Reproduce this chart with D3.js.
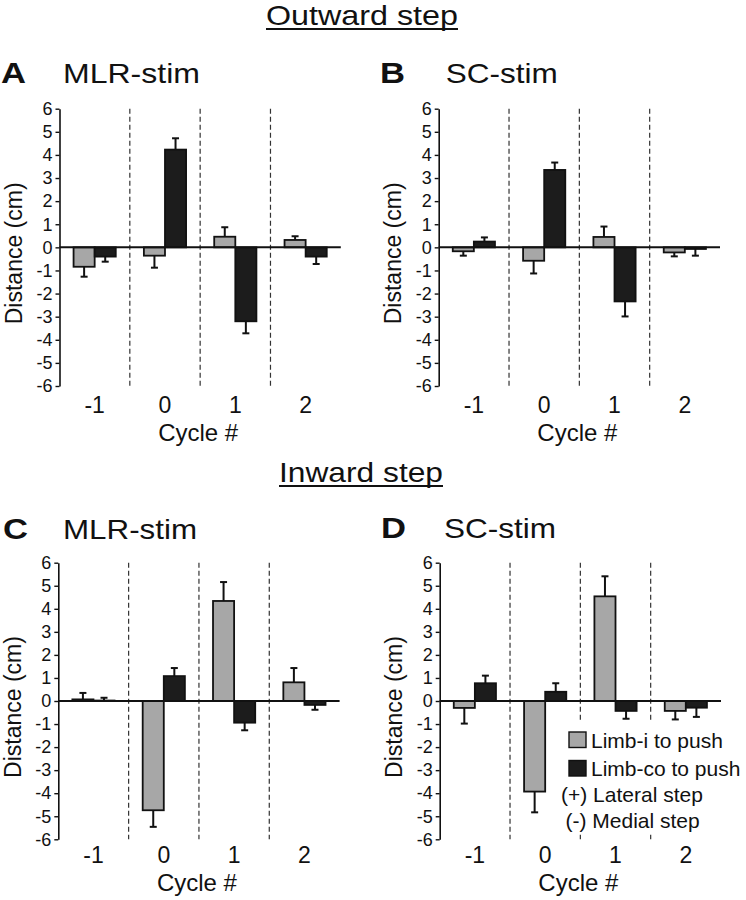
<!DOCTYPE html>
<html>
<head>
<meta charset="utf-8">
<script src="https://cdn.jsdelivr.net/npm/d3@7"></script>
<style>
  body { margin: 0; background: #fff; }
  svg text { font-family: "Liberation Sans", Arial, sans-serif; fill: #111; }
</style>
</head>
<body>
<div id="chart"></div>
<script>
// categories / series / ticks
var cycles = ["-1", "0", "1", "2"];
var series = ["Limb-i to push", "Limb-co to push"];
var yTicks = [-6, -5, -4, -3, -2, -1, 0, 1, 2, 3, 4, 5, 6];

// Outward step, MLR-stim (A)
var outMlrLimbI = [-0.84, -0.36, 0.46, 0.32];
var outMlrLimbIErr = [0.43, 0.52, 0.41, 0.16];
var outMlrLimbCo = [-0.40, 4.23, -3.20, -0.40];
var outMlrLimbCoErr = [0.22, 0.49, 0.52, 0.32];

// Outward step, SC-stim (B)
var outScLimbI = [-0.17, -0.58, 0.45, -0.22];
var outScLimbIErr = [0.19, 0.55, 0.45, 0.17];
var outScLimbCo = [0.25, 3.35, -2.34, -0.07];
var outScLimbCoErr = [0.18, 0.32, 0.65, 0.29];

// Inward step, MLR-stim (C)
var inMlrLimbI = [0.07, -4.74, 4.34, 0.81];
var inMlrLimbIErr = [0.28, 0.72, 0.82, 0.62];
var inMlrLimbCo = [0.02, 1.08, -0.94, -0.17];
var inMlrLimbCoErr = [0.12, 0.35, 0.33, 0.21];

// Inward step, SC-stim (D)
var inScLimbI = [-0.30, -3.93, 4.54, -0.43];
var inScLimbIErr = [0.68, 0.90, 0.87, 0.37];
var inScLimbCo = [0.77, 0.40, -0.43, -0.29];
var inScLimbCoErr = [0.33, 0.37, 0.34, 0.40];

var colors = {"Limb-i to push": "#a7a7a7", "Limb-co to push": "#1c1c1c"};

var panels = [
  {letter: "A", title: "MLR-stim", left: 59.5, top: 108.7, bottom: 386, titleY: 83, tickY: 413, cycleY: 441,
   letterX: 1, titleX: 63, titleW: 137, i: outMlrLimbI, iErr: outMlrLimbIErr, co: outMlrLimbCo, coErr: outMlrLimbCoErr},
  {letter: "B", title: "SC-stim", left: 438.7, top: 108.7, bottom: 386, titleY: 83, tickY: 413, cycleY: 441,
   letterX: 380, titleX: 445.7, titleW: 112, i: outScLimbI, iErr: outScLimbIErr, co: outScLimbCo, coErr: outScLimbCoErr},
  {letter: "C", title: "MLR-stim", left: 58.3, top: 562.7, bottom: 839.3, titleY: 539, tickY: 863, cycleY: 891,
   letterX: 3, titleX: 63, titleW: 134, i: inMlrLimbI, iErr: inMlrLimbIErr, co: inMlrLimbCo, coErr: inMlrLimbCoErr},
  {letter: "D", title: "SC-stim", left: 439.7, top: 562.7, bottom: 839.3, titleY: 538, tickY: 863, cycleY: 891,
   letterX: 381, titleX: 444, titleW: 112, i: inScLimbI, iErr: inScLimbIErr, co: inScLimbCo, coErr: inScLimbCoErr, legend: true}
];

var plotW = 281.3;

var svg = d3.select("#chart")
  .append("svg")
    .attr("width", 746)
    .attr("height", 900);

// section headings
function heading(txt, cx, y, w) {
  svg.append("text")
    .attr("x", cx - w / 2)
    .attr("y", y)
    .attr("font-size", 27.5)
    .attr("textLength", w)
    .attr("lengthAdjust", "spacingAndGlyphs")
    .text(txt);
  svg.append("line")
    .attr("x1", cx - w / 2).attr("x2", cx + w / 2)
    .attr("y1", y + 4).attr("y2", y + 4)
    .attr("stroke", "#111").attr("stroke-width", 2);
}
heading("Outward step", 362, 25, 192);
heading("Inward step", 361, 482, 164);

panels.forEach(function(p) {
  var g = svg.append("g");

  var y = d3.scaleLinear().domain([-6, 6]).range([p.bottom, p.top]);
  var x0 = d3.scaleBand().domain(cycles).range([p.left, p.left + plotW]);
  var step = x0.bandwidth();
  var x1 = d3.scaleBand().domain(series).range([step * 0.2, step * 0.8]);

  // panel letter + title
  g.append("text")
    .attr("x", p.letterX).attr("y", p.titleY)
    .attr("font-size", 29).attr("font-weight", "bold")
    .attr("textLength", 25).attr("lengthAdjust", "spacingAndGlyphs")
    .text(p.letter);
  g.append("text")
    .attr("x", p.titleX).attr("y", p.titleY)
    .attr("font-size", 28)
    .attr("textLength", p.titleW).attr("lengthAdjust", "spacingAndGlyphs")
    .text(p.title);

  // dashed separators between cycles
  g.selectAll(".sep")
    .data(cycles.slice(1))
    .enter().append("line")
      .attr("x1", function(d) { return x0(d); })
      .attr("x2", function(d) { return x0(d); })
      .attr("y1", p.top).attr("y2", p.bottom)
      .attr("stroke", "#333").attr("stroke-width", 1.2)
      .attr("stroke-dasharray", "5,3");

  var rows = [];
  cycles.forEach(function(c, k) {
    rows.push({cycle: c, s: series[0], v: p.i[k], e: p.iErr[k]});
    rows.push({cycle: c, s: series[1], v: p.co[k], e: p.coErr[k]});
  });

  // error bars (drawn away from zero)
  var eb = g.selectAll(".err").data(rows).enter().append("g");
  function cx(d) { return x0(d.cycle) + x1(d.s) + x1.bandwidth() / 2; }
  function tip(d) { return d.v >= 0 ? d.v + d.e : d.v - d.e; }
  eb.append("line")
    .attr("x1", cx).attr("x2", cx)
    .attr("y1", function(d) { return y(d.v); })
    .attr("y2", function(d) { return y(tip(d)); })
    .attr("stroke", "#111").attr("stroke-width", 2);
  eb.append("line")
    .attr("x1", function(d) { return cx(d) - 3.5; })
    .attr("x2", function(d) { return cx(d) + 3.5; })
    .attr("y1", function(d) { return y(tip(d)); })
    .attr("y2", function(d) { return y(tip(d)); })
    .attr("stroke", "#111").attr("stroke-width", 2);

  // bars
  g.selectAll(".bar")
    .data(rows)
    .enter().append("rect")
      .attr("x", function(d) { return x0(d.cycle) + x1(d.s); })
      .attr("width", x1.bandwidth())
      .attr("y", function(d) { return y(Math.max(0, d.v)); })
      .attr("height", function(d) { return Math.abs(y(d.v) - y(0)); })
      .attr("fill", function(d) { return colors[d.s]; })
      .attr("stroke", "#111").attr("stroke-width", 1.8);

  // zero line
  g.append("line")
    .attr("x1", p.left).attr("x2", p.left + plotW)
    .attr("y1", y(0)).attr("y2", y(0))
    .attr("stroke", "#111").attr("stroke-width", 2);

  // y axis
  var ax = g.append("g")
    .attr("transform", "translate(" + p.left + ",0)")
    .call(d3.axisLeft(y).tickValues(yTicks).tickSize(4).tickSizeOuter(0).tickPadding(3)
      .tickFormat(function(d) { return String(d); }));
  ax.select(".domain").attr("stroke", "#111").attr("stroke-width", 1.6);
  ax.selectAll(".tick line").attr("stroke", "#111").attr("stroke-width", 1.4);
  ax.selectAll(".tick text")
    .attr("font-size", 18)
    .attr("font-family", "'Liberation Sans', Arial, sans-serif")
    .attr("fill", "#111");

  g.append("text")
    .attr("transform", "translate(" + (p.left - 37.7) + "," + ((p.top + p.bottom) / 2 + 6) + ") rotate(-90)")
    .attr("text-anchor", "middle")
    .attr("font-size", 23)
    .text("Distance (cm)");

  // x labels
  g.selectAll(".xl")
    .data(cycles)
    .enter().append("text")
      .attr("x", function(d) { return x0(d) + step / 2; })
      .attr("y", p.tickY)
      .attr("text-anchor", "middle")
      .attr("font-size", 23)
      .text(function(d) { return d; });

  g.append("text")
    .attr("x", p.left + plotW / 2 - 2)
    .attr("y", p.cycleY)
    .attr("text-anchor", "middle")
    .attr("font-size", 24)
    .text("Cycle #");

  if (p.legend) {
    var lg = g.append("g");
    lg.append("rect")
      .attr("x", 557).attr("y", 721).attr("width", 189).attr("height", 112)
      .attr("fill", "#fff");
    var items = lg.selectAll(".li")
      .data(series)
      .enter().append("g")
        .attr("transform", function(d, k) { return "translate(569," + (732 + k * 28.5) + ")"; });
    items.append("rect")
      .attr("width", 17).attr("height", 15.5)
      .attr("fill", function(d) { return colors[d]; })
      .attr("stroke", "#111").attr("stroke-width", 1.4);
    items.append("text")
      .attr("x", 22).attr("y", 15.5)
      .attr("font-size", 21)
      .text(function(d) { return d; });
    lg.append("text").attr("x", 561).attr("y", 802).attr("font-size", 21).text("(+) Lateral step");
    lg.append("text").attr("x", 565.5).attr("y", 828).attr("font-size", 21).text("(-) Medial step");
  }
});
</script>
</body>
</html>
